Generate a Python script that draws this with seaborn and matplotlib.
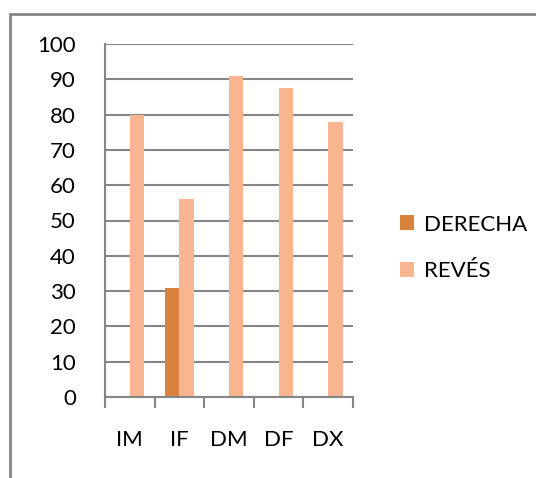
import pandas as pd
import numpy as np
import matplotlib
matplotlib.use("Agg")
import matplotlib.pyplot as plt
import seaborn as sns
from matplotlib.patches import Rectangle, Patch

# data
categories = ["IM", "IF", "DM", "DF", "DX"]
derecha = [np.nan, 31, np.nan, np.nan, np.nan]
reves = [80, 56, 91, 87.5, 78]
series_names = ["DERECHA", "REVÉS"]
colors = ["#D9823B", "#F8B58F"]
y_ticks = list(range(0, 101, 10))

df = pd.DataFrame({
    "cat": categories * 2,
    "serie": [series_names[0]] * len(categories) + [series_names[1]] * len(categories),
    "valor": derecha + reves,
})

sns.set_style("white")
plt.rcParams["font.family"] = ["Lato", "DejaVu Sans"]
plt.rcParams["text.color"] = "black"
plt.rcParams["xtick.labelcolor"] = "black"
plt.rcParams["ytick.labelcolor"] = "black"

fig = plt.figure(figsize=(5.36, 4.78), dpi=100)
ax = fig.add_axes([105 / 536, 1 - 397 / 478, 248 / 536, 353 / 478])

sns.barplot(data=df, x="cat", y="valor", hue="serie", order=categories,
            hue_order=series_names, palette=colors, saturation=1, width=0.58, gap=0,
            linewidth=0, errorbar=None, legend=False, ax=ax)

grid_col = "#868686"
fs = 16
ax.set_xlim(-0.5, 4.5)
ax.set_ylim(0, 100)
ax.set_yticks(y_ticks)
ax.set_yticklabels([str(t) for t in y_ticks])
ax.yaxis.grid(True, color=grid_col, linewidth=1.5)
ax.set_axisbelow(True)
ax.set_xlabel("")
ax.set_ylabel("")

# ticks between categories
ax.set_xticks(np.arange(-0.5, 5, 1), minor=True)
ax.tick_params(axis="x", which="minor", length=8, width=1.5, color=grid_col, direction="out")
ax.tick_params(axis="x", which="major", length=0, pad=24, labelsize=fs, labelcolor="black")
ax.tick_params(axis="y", length=8, width=1.5, color=grid_col, direction="out", pad=13,
               labelsize=fs, labelcolor="black")
ax.tick_params(axis="x", bottom=True, which="both")

for s in ["top", "right"]:
    ax.spines[s].set_visible(False)
for s in ["left", "bottom"]:
    ax.spines[s].set_color(grid_col)
    ax.spines[s].set_linewidth(1.5)

# legend on the right
handles = [Patch(facecolor=c, edgecolor="none") for c in colors]
fig.legend(handles, series_names, loc="center left", bbox_to_anchor=(380 / 536, 1 - 248 / 478),
           frameon=False, fontsize=fs, handlelength=0.65, handleheight=0.65,
           handletextpad=0.45, labelspacing=1.2, labelcolor="black")

# outer chart border (right/bottom edges fall outside the image)
fig.patches.append(Rectangle((10 / 536, -0.1), 1.2, 1 - 14 / 478 + 0.1,
                             transform=fig.transFigure, fill=False,
                             edgecolor=grid_col, linewidth=2))

fig.savefig("out.png", dpi=100)
